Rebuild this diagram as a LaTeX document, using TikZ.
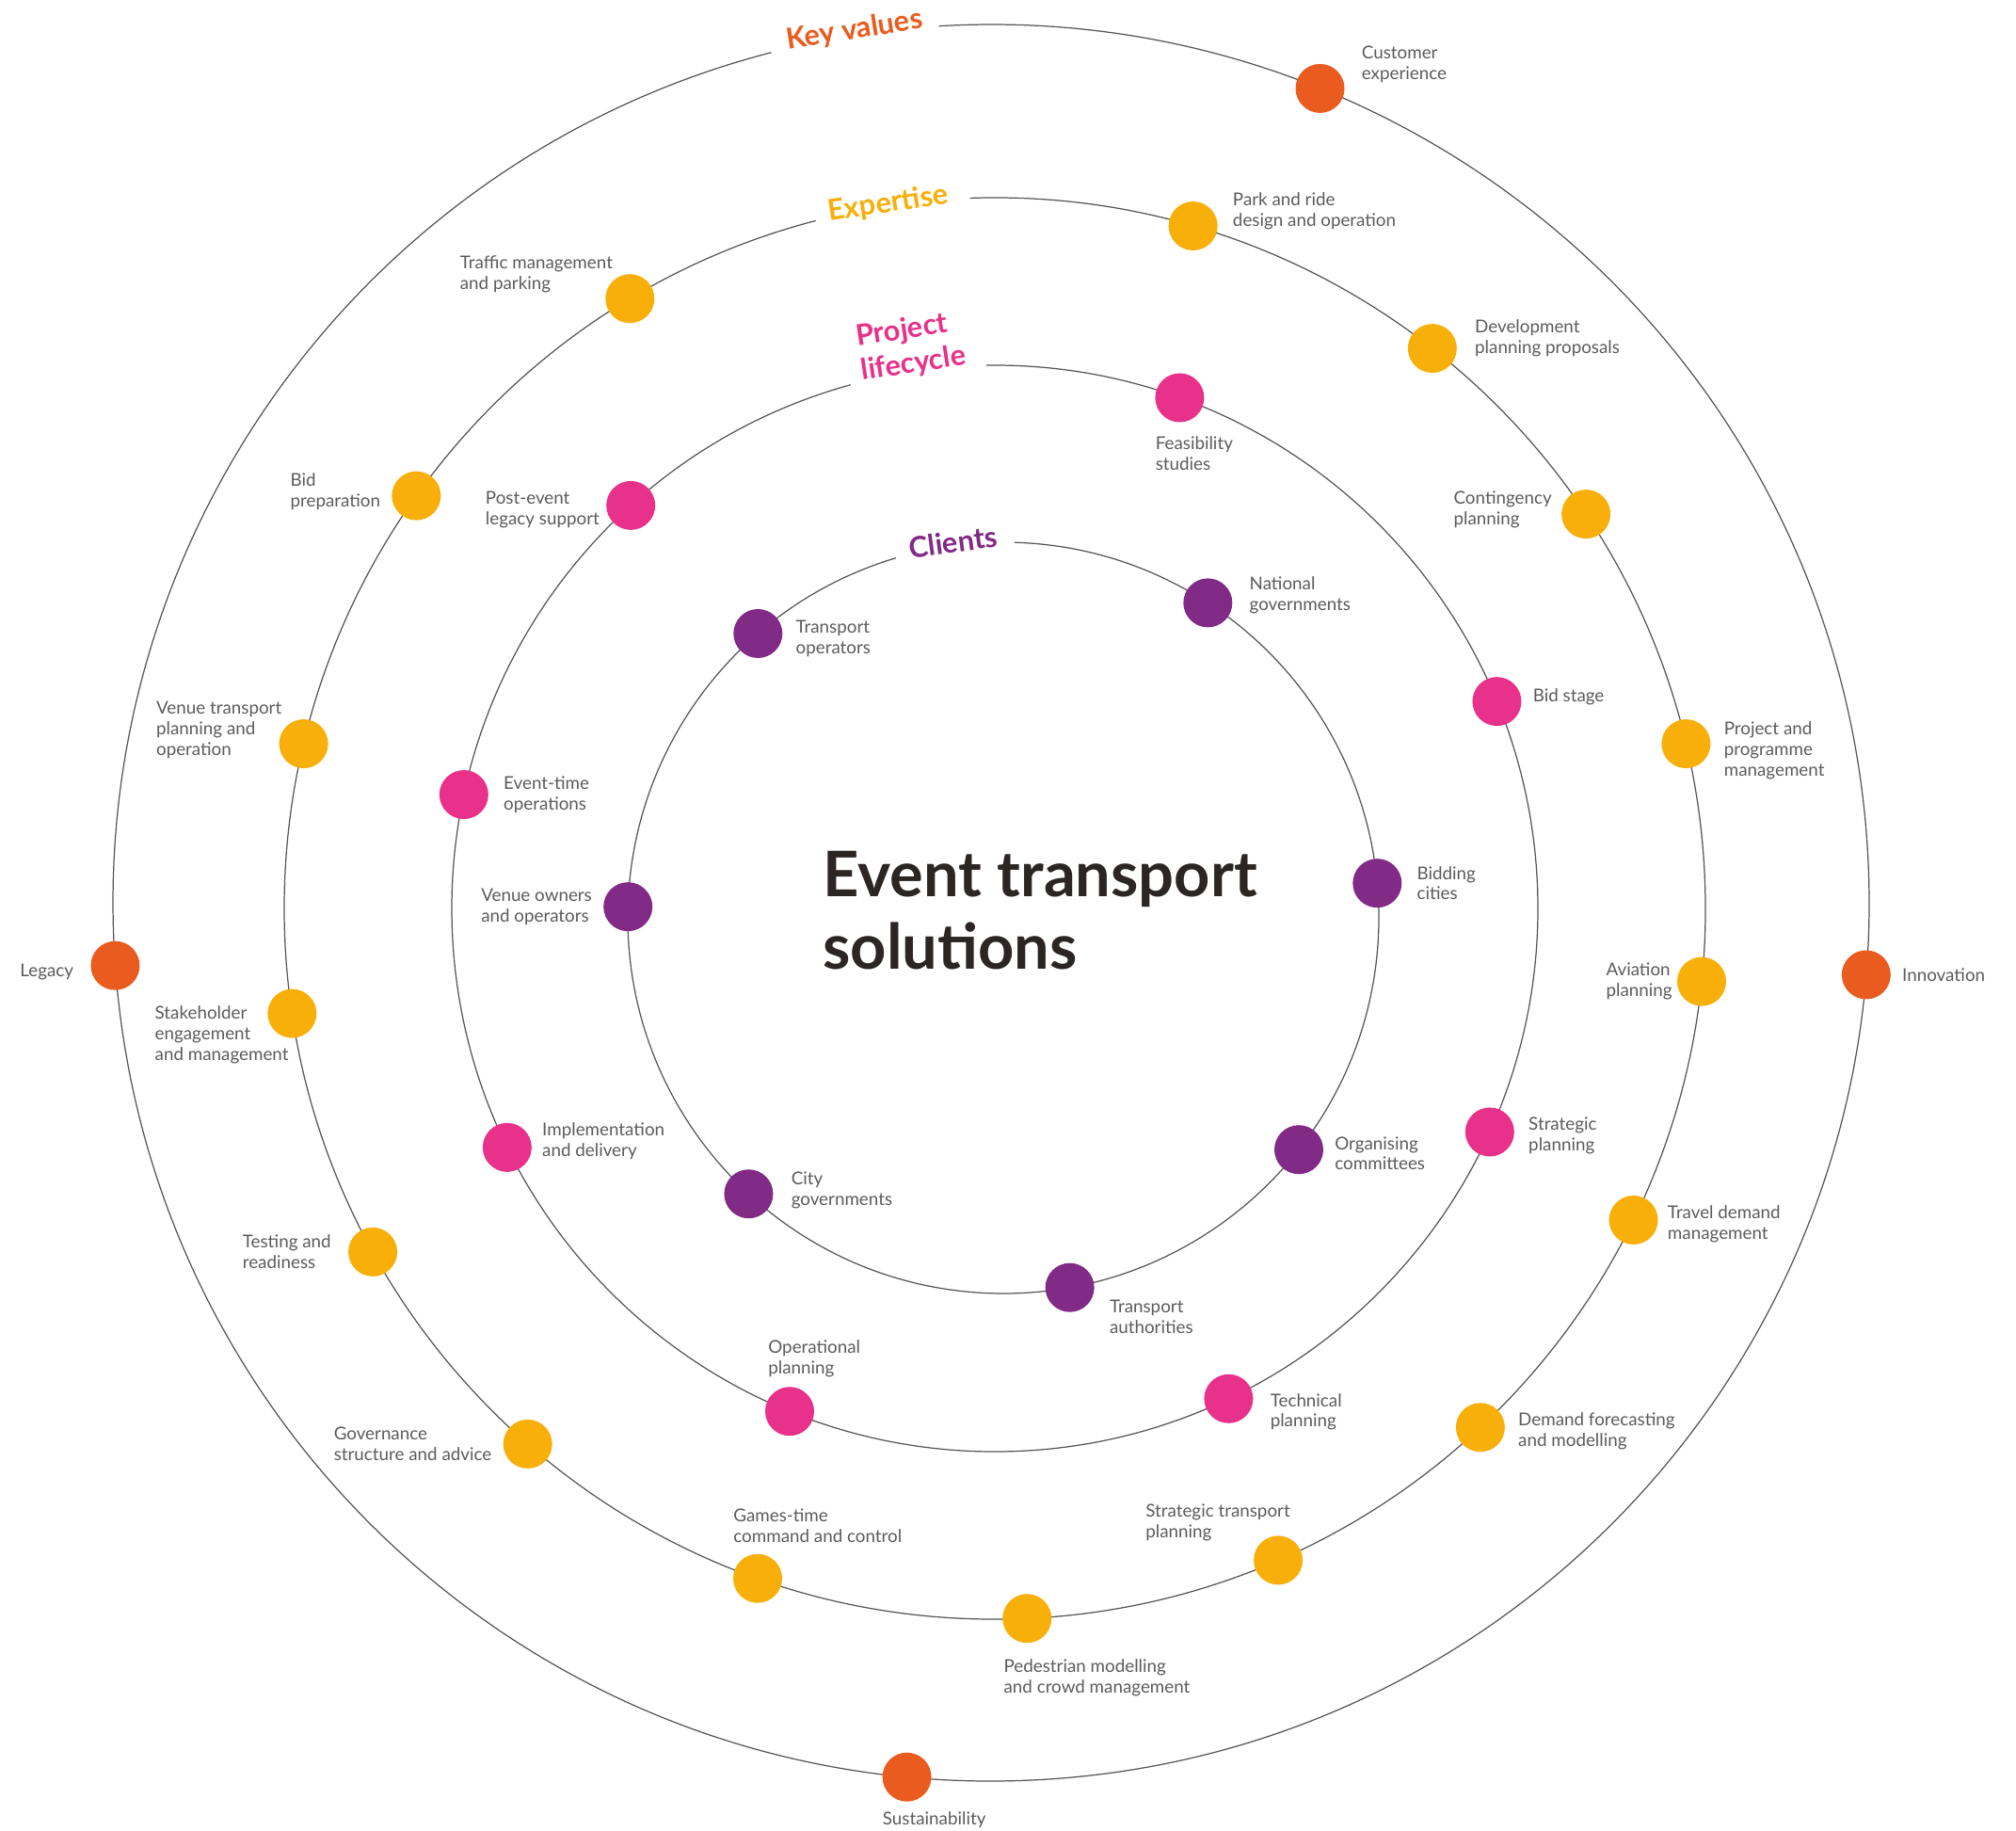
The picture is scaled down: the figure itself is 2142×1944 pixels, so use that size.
\documentclass[tikz,border=0pt]{standalone}
\usepackage{fontspec}
\setmainfont{Lato}
\usepackage{tikz}
\usetikzlibrary{calc, positioning}

\definecolor{keyorange}{HTML}{EA5B1F}
\definecolor{expyellow}{HTML}{F8AF0A}
\definecolor{lifepink}{HTML}{E8318A}
\definecolor{clientpurple}{HTML}{812A86}
\definecolor{lblgray}{HTML}{5B5B5B}
\definecolor{ringgray}{HTML}{555555}
\definecolor{titledark}{HTML}{2B2523}

\begin{document}
\begin{tikzpicture}[x=0.02cm, y=0.02cm,
  ring/.style={draw=ringgray, line width=0.7pt},
  dot/.style={circle, inner sep=0pt, minimum size=1.04cm},
  kv/.style={dot, fill=keyorange},
  ex/.style={dot, fill=expyellow},
  pl/.style={dot, fill=lifepink},
  cl/.style={dot, fill=clientpurple},
  lbl/.style={text=lblgray, font=\fontsize{10.7}{12.5}\selectfont, align=left, inner sep=0pt},
  ringtitle/.style={font=\fontsize{17.5}{21}\selectfont\bfseries, align=left, inner sep=0pt}]

  \useasboundingbox (0,0) rectangle (2142,-1944);

  \coordinate (ko) at (1053,-959);
  \coordinate (ke) at (1057,-965);
  \coordinate (kp) at (1057,-965);
  \coordinate (kc) at (1066,-975);

  % rings, open where the title sits
  \draw[ring] ($(ko)+(93.4:933)$) arc[start angle=93.4, end angle=-255.5, radius=933];
  \draw[ring] ($(ke)+(92.0:755)$) arc[start angle=92.0, end angle=-255.4, radius=755];
  \draw[ring] ($(kp)+(90.9:577)$) arc[start angle=90.9, end angle=-254.6, radius=577];
  \draw[ring] ($(kc)+(88.3:399)$) arc[start angle=88.3, end angle=-253.4, radius=399];

  \node[ringtitle, text=keyorange, rotate=9] (kv-title) at ($(ko)+(98.9:938)$) {Key values};
  \node[ringtitle, text=expyellow, rotate=8.6] (ex-title) at ($(ke)+(98.6:757)$) {Expertise};
  \node[ringtitle, text=lifepink, rotate=8.5] (pl-title) at ($(kp)+(98.5:603)$) {Project\\lifecycle};
  \node[ringtitle, text=clientpurple, rotate=7.6] (cl-title) at ($(kc)+(97.6:403)$) {Clients};

  \node[anchor=west, align=left, inner sep=0pt, text=titledark,
    font=\fontsize{38}{44}\selectfont\bfseries] (title) at (874,-967) {Event transport\\solutions};

  % key values
  \node[kv] (cust) at ($(ko)+(68:933)$) {};
  \node[kv] (innov) at ($(ko)+(-4.7:933)$) {};
  \node[kv] (sust) at ($(ko)+(264.5:933)$) {};
  \node[kv] (legacy) at ($(ko)+(184.1:933)$) {};
  \node[lbl, anchor=west] (cust-t) at ($(cust)+(44,26)$) {Customer\\experience};
  \node[lbl, anchor=west] (innov-t) at ($(innov)+(38,0)$) {Innovation};
  \node[lbl, anchor=west] (sust-t) at ($(sust)+(-26,-45)$) {Sustainability};
  \node[lbl, anchor=east] (legacy-t) at ($(legacy)+(-44,-7)$) {Legacy};

  % expertise
  \node[ex] (park) at ($(ke)+(73.8:755)$) {};
  \node[ex] (devp) at ($(ke)+(52.0:755)$) {};
  \node[ex] (cont) at ($(ke)+(33.7:755)$) {};
  \node[ex] (ppm) at ($(ke)+(13.4:755)$) {};
  \node[ex] (avia) at ($(ke)+(-5.9:755)$) {};
  \node[ex] (tdm) at ($(ke)+(-26.0:755)$) {};
  \node[ex] (dfm) at ($(ke)+(-46.9:755)$) {};
  \node[ex] (stp) at ($(ke)+(-66.5:755)$) {};
  \node[ex] (ped) at ($(ke)+(-87.4:755)$) {};
  \node[ex] (gtc) at ($(ke)+(250.5:755)$) {};
  \node[ex] (gov) at ($(ke)+(228.9:755)$) {};
  \node[ex] (test) at ($(ke)+(208.9:755)$) {};
  \node[ex] (stake) at ($(ke)+(188.5:755)$) {};
  \node[ex] (vtp) at ($(ke)+(166.6:755)$) {};
  \node[ex] (bidp) at ($(ke)+(144.5:755)$) {};
  \node[ex] (traf) at ($(ke)+(120.9:755)$) {};
  \node[lbl, anchor=west] (park-t) at ($(park)+(42,16)$) {Park and ride\\design and operation};
  \node[lbl, anchor=west] (devp-t) at ($(devp)+(45,11)$) {Development\\planning proposals};
  \node[lbl, anchor=east] (cont-t) at ($(cont)+(-36,5)$) {Contingency\\planning};
  \node[lbl, anchor=west] (ppm-t) at ($(ppm)+(40,-7)$) {Project and\\programme\\management};
  \node[lbl, anchor=east] (avia-t) at ($(avia)+(-31,0)$) {Aviation\\planning};
  \node[lbl, anchor=west] (tdm-t) at ($(tdm)+(36,-4)$) {Travel demand\\management};
  \node[lbl, anchor=west] (dfm-t) at ($(dfm)+(40,-4)$) {Demand forecasting\\and modelling};
  \node[lbl, anchor=west] (stp-t) at ($(stp)+(-141,40)$) {Strategic transport\\planning};
  \node[lbl, anchor=west] (ped-t) at ($(ped)+(-25,-63)$) {Pedestrian modelling\\and crowd management};
  \node[lbl, anchor=west] (gtc-t) at ($(gtc)+(-26,56)$) {Games-time\\command and control};
  \node[lbl, anchor=east] (gov-t) at ($(gov)+(-38,0)$) {Governance\\structure and advice};
  \node[lbl, anchor=east] (test-t) at ($(test)+(-44,0)$) {Testing and\\readiness};
  \node[lbl, anchor=west] (stake-t) at ($(stake)+(-146,-23)$) {Stakeholder\\engagement\\and management};
  \node[lbl, anchor=east] (vtp-t) at ($(vtp)+(-23,15)$) {Venue transport\\planning and\\operation};
  \node[lbl, anchor=east] (bidp-t) at ($(bidp)+(-38,4)$) {Bid\\preparation};
  \node[lbl, anchor=east] (traf-t) at ($(traf)+(-18,26)$) {Traffic management\\and parking};

  % project lifecycle
  \node[pl] (feas) at ($(kp)+(70.1:577)$) {};
  \node[pl] (bids) at ($(kp)+(22.4:577)$) {};
  \node[pl] (strp) at ($(kp)+(-24.3:577)$) {};
  \node[pl] (tech) at ($(kp)+(-64.5:577)$) {};
  \node[pl] (oper) at ($(kp)+(247.8:577)$) {};
  \node[pl] (impl) at ($(kp)+(206.1:577)$) {};
  \node[pl] (evt) at ($(kp)+(167.9:577)$) {};
  \node[pl] (post) at ($(kp)+(132.1:577)$) {};
  \node[lbl, anchor=west] (feas-t) at ($(feas)+(-26,-59)$) {Feasibility\\studies};
  \node[lbl, anchor=west] (bids-t) at ($(bids)+(38,5)$) {Bid stage};
  \node[lbl, anchor=west] (strp-t) at ($(strp)+(41,-4)$) {Strategic\\planning};
  \node[lbl, anchor=west] (tech-t) at ($(tech)+(44,-14)$) {Technical\\planning};
  \node[lbl, anchor=west] (oper-t) at ($(oper)+(-23,56)$) {Operational\\planning};
  \node[lbl, anchor=west] (impl-t) at ($(impl)+(37,7)$) {Implementation\\and delivery};
  \node[lbl, anchor=west] (evt-t) at ($(evt)+(42,0)$) {Event-time\\operations};
  \node[lbl, anchor=east] (post-t) at ($(post)+(-33,-5)$) {Post-event\\legacy support};

  % clients
  \node[cl] (tops) at ($(kc)+(130.8:399)$) {};
  \node[cl] (natg) at ($(kc)+(57.0:399)$) {};
  \node[cl] (bidc) at ($(kc)+(5.3:399)$) {};
  \node[cl] (orgc) at ($(kc)+(-38.1:399)$) {};
  \node[cl] (tauth) at ($(kc)+(-79.8:399)$) {};
  \node[cl] (cityg) at ($(kc)+(227.3:399)$) {};
  \node[cl] (venue) at ($(kc)+(178.3:399)$) {};
  \node[lbl, anchor=west] (tops-t) at ($(tops)+(40,-5)$) {Transport\\operators};
  \node[lbl, anchor=west] (natg-t) at ($(natg)+(44,8)$) {National\\governments};
  \node[lbl, anchor=west] (bidc-t) at ($(bidc)+(42,0)$) {Bidding\\cities};
  \node[lbl, anchor=west] (orgc-t) at ($(orgc)+(38,-4)$) {Organising\\committees};
  \node[lbl, anchor=west] (tauth-t) at ($(tauth)+(42,-31)$) {Transport\\authorities};
  \node[lbl, anchor=west] (cityg-t) at ($(cityg)+(45,4)$) {City\\governments};
  \node[lbl, anchor=east] (venue-t) at ($(venue)+(-38,0)$) {Venue owners\\and operators};
\end{tikzpicture}
\end{document}
